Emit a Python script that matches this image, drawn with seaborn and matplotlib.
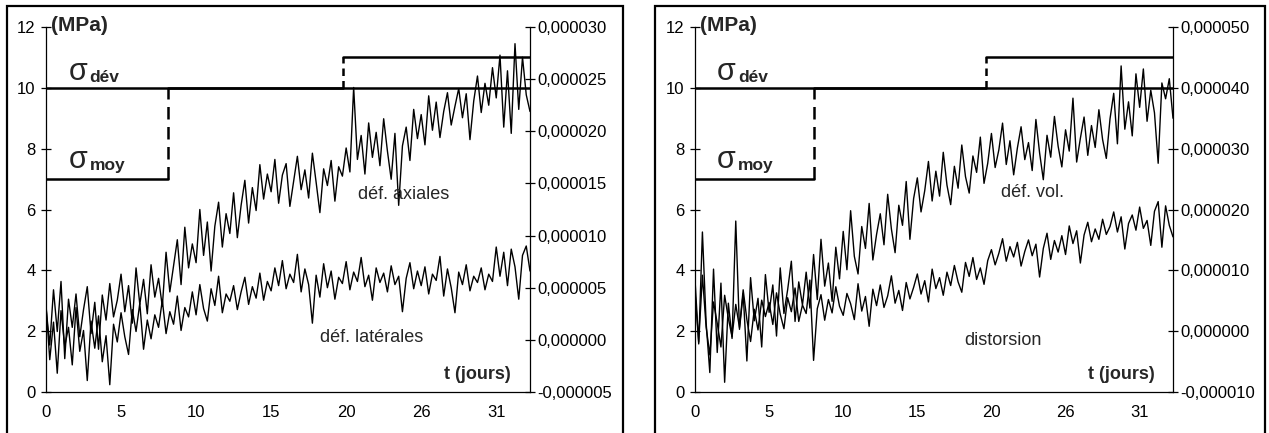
import numpy as np
import seaborn as sns
import matplotlib.pyplot as plt
from matplotlib.patches import Rectangle
from matplotlib.ticker import FuncFormatter

sns.set_style("white")
plt.rcParams["font.family"] = ["Liberation Sans", "DejaVu Sans"]

# ---------------- data ----------------
# x axis is an index scale: equally spaced labels 0,5,10,15,20,26,31
tick_labels = ["0", "5", "10", "15", "20", "26", "31"]
x_end = 6.45
step = 0.05

# stress paths (MPa): level before / after the switch position
moy_levels = [7, 10]
moy_switch = [1.63, 1.60]      # left, right panel
dev_levels = [10, 11]
dev_switch = [3.96, 3.93]

# strains, in 1e-6
axiales = [
    3.1, -0.5, 4.8, 0.8, 5.6, -1.8, 3.9, 1.2, 4.4, 0.3,
    2.9, 5.1, 0.6, 3.6, -0.9, 4.3, 1.9, 5.4, 2.2, 3.8,
    6.3, 2.7, 5.2, 1.6, 6.9, 3.4, 5.8, 2.5, 7.2, 4.1,
    5.9, 3.2, 8.4, 4.6, 7.1, 9.6, 5.3, 10.8, 6.9, 9.2,
    7.4, 12.5, 8.1, 11.3, 6.6, 10.9, 13.2, 8.9, 12.1, 10.2,
    14.1, 9.8, 12.9, 15.3, 11.2, 14.6, 12.4, 16.8, 13.5, 15.9,
    14.2, 17.3, 13.1, 15.8, 16.9, 12.8, 15.2, 17.6, 14.4, 16.3,
    13.6, 17.9, 15.1, 12.2, 16.4, 14.8, 17.2, 13.3, 16.6, 15.7,
    18.4, 16.1, 24.2, 17.3, 19.6, 15.9, 20.8, 17.5, 19.9, 16.7,
    21.2, 18.1, 15.4, 19.8, 12.9, 18.6, 20.4, 17.2, 22.1, 19.3,
    21.6, 18.7, 23.4, 20.1, 22.8, 19.4, 21.9, 23.7, 20.6, 22.4,
    24.1, 21.3, 23.6, 19.2, 22.9, 25.3, 21.8, 24.6, 22.5, 26.1,
    23.2, 27.3, 20.4, 25.8, 19.8, 28.4, 22.1, 27.1, 23.5, 21.9,
]
laterales = [
    3.4, -1.9, 1.7, -3.2, 2.8, -0.6, 1.2, -2.4, 3.1, -1.1,
    0.9, -3.9, 1.8, -0.8, 2.3, -2.1, 0.4, -4.3, 1.5, -0.2,
    2.6, 0.3, -1.4, 2.9, 0.8, 3.5, -0.9, 1.9, 0.1, 2.4,
    1.2, 3.8, 0.6, 2.7, 1.5, 4.2, 0.9, 3.1, 2.2, 4.6,
    2.4, 5.3, 3.0, 1.8, 4.9, 3.3, 6.1, 2.6, 4.4, 3.7,
    5.2, 2.9, 4.6, 6.0, 3.4, 5.1, 4.0, 6.4, 3.8, 5.6,
    4.7, 6.9, 5.2, 7.6, 4.9, 6.3, 5.5, 8.2, 4.6, 6.8,
    5.3, 1.6, 6.2, 4.1, 7.3, 5.0, 6.6, 3.9, 6.0, 5.4,
    7.5, 4.8, 6.5, 5.6, 7.9, 5.1, 6.2, 3.8, 6.9, 5.5,
    6.4, 4.6, 7.1, 5.3, 6.1, 2.7, 5.9, 7.4, 4.9, 6.6,
    5.2, 7.0, 4.4, 6.3, 5.7, 8.0, 4.2, 6.8, 5.0, 2.6,
    6.5, 5.3, 7.2, 4.7, 6.1, 5.5, 6.9, 4.8, 6.3, 5.6,
    8.9, 6.1, 8.4, 5.2, 8.7, 7.0, 3.9, 8.1, 9.0, 6.6,
]
vol = [
    8.5, -2.1, 16.3, 1.4, -6.8, 10.2, -3.5, 7.9, -8.4, 4.6,
    -1.2, 18.1, 0.3, 6.2, -4.9, 8.8, 1.7, 5.4, -2.6, 9.3,
    3.1, 7.6, -0.8, 10.4, 2.9, 6.8, 11.5, 1.6, 8.1, 4.3,
    9.7, 3.8, 12.6, 5.2, 15.1, 7.4, 11.2, 4.9, 13.8, 8.6,
    16.4, 10.1, 19.8, 12.3, 9.4, 17.2, 13.6, 21.0, 11.7, 15.9,
    19.3, 14.2, 22.5, 16.8, 12.9, 20.7, 17.4, 24.6, 15.1, 21.8,
    25.2, 19.6, 23.1, 27.9, 21.4, 26.3, 22.2, 29.4, 24.0, 20.8,
    27.1, 23.5, 30.6, 25.4, 22.7, 28.8, 26.1, 31.9, 24.3, 27.6,
    32.5, 26.9, 29.8, 34.2, 27.4, 31.3, 25.7, 30.1, 33.6, 28.2,
    31.0, 26.4, 34.8, 29.3, 24.9, 32.2, 28.6, 35.3, 30.4, 27.0,
    33.1, 29.6, 38.3, 27.8, 31.7, 35.2, 28.9, 33.8, 30.2, 36.4,
    31.5, 28.4, 34.9, 39.1, 30.8, 43.6, 33.2, 37.7, 32.1, 42.3,
    36.8, 43.1, 34.5, 39.6, 35.9, 27.6, 40.8, 38.2, 41.5, 35.0,
]
distorsion = [
    6.4, -1.8, 9.2, 0.7, -3.9, 4.8, 1.3, -2.6, 5.9, 2.1,
    -0.9, 4.4, 0.6, 6.8, 1.9, -1.7, 3.6, 0.2, 5.1, 2.4,
    4.7, 1.1, 6.3, 2.8, 0.4, 5.5, 3.2, 7.1, 1.6, 4.3,
    2.9, 8.4, -4.8, 3.7, 6.0, 1.8, 5.2, 3.0, 7.3, 4.1,
    2.6, 6.2, 4.5, 1.9, 7.8, 3.3, 5.7, 0.8, 6.9, 4.2,
    7.6, 3.9, 5.8, 9.1, 4.6, 6.7, 3.4, 8.0, 5.3, 7.2,
    9.4, 6.1, 8.3, 4.8, 10.2, 7.0, 8.8, 5.9, 9.7, 7.5,
    10.8, 8.1, 6.4, 11.3, 9.0, 12.1, 8.5, 10.4, 7.7, 11.6,
    13.4, 10.9, 12.8, 15.2, 11.5, 13.9, 12.2, 14.6, 10.7, 13.1,
    15.0, 12.4, 14.3, 8.9, 13.6, 16.1, 11.8, 14.9, 13.0, 15.7,
    12.6, 17.3, 14.4, 16.5, 11.2, 15.8, 17.9, 14.7, 16.8, 15.1,
    18.4, 15.9, 17.2, 19.6, 16.3, 18.8, 13.5, 17.7, 19.1, 16.6,
    20.4, 16.9, 18.2, 14.1, 19.7, 21.3, 13.8, 20.6, 17.4, 15.5,
]

panels = [
    dict(rect=[46 / 1269, 41 / 433, 484 / 1269, 365 / 433],
         frame=(7, 623), strain_lim=(-5e-6, 30e-6), strain_step=5e-6,
         series=(axiales, laterales),
         labels=[("déf. axiales", 4.16, 6.5), ("déf. latérales", 3.65, 1.78)]),
    dict(rect=[695 / 1269, 41 / 433, 478 / 1269, 365 / 433],
         frame=(655, 1265), strain_lim=(-10e-6, 50e-6), strain_step=10e-6,
         series=(vol, distorsion),
         labels=[("déf. vol.", 4.13, 6.55), ("distorsion", 3.63, 1.7)]),
]

fig = plt.figure(figsize=(12.69, 4.33), dpi=100)
comma_fmt = FuncFormatter(lambda v, pos: f"{v:.6f}".replace(".", ","))

for i, p in enumerate(panels):
    # outer chart frame
    x0, x1 = p["frame"]
    fig.add_artist(Rectangle((x0 / 1269, -0.02), (x1 - x0) / 1269, 1.006,
                             transform=fig.transFigure, fill=False,
                             lw=1.6, color="black"))

    ax = fig.add_axes(p["rect"])
    ax2 = ax.twinx()

    t = np.arange(len(p["series"][0])) * step
    for s in p["series"]:
        sns.lineplot(x=t, y=np.array(s) * 1e-6, ax=ax2, color="black",
                     lw=1.0, estimator=None)

    # stress paths
    ms, ds = moy_switch[i], dev_switch[i]
    ax.plot([0, ms], [moy_levels[0]] * 2, color="black", lw=1.8)
    ax.plot([ms, ms], moy_levels, color="black", lw=1.8, ls=(0, (5, 3)))
    ax.plot([ms, x_end], [moy_levels[1]] * 2, color="black", lw=1.8)
    ax.plot([0, ds], [dev_levels[0]] * 2, color="black", lw=1.8)
    ax.plot([ds, ds], dev_levels, color="black", lw=1.8, ls=(0, (3, 2)))
    ax.plot([ds, x_end], [dev_levels[1]] * 2, color="black", lw=1.8)

    ax.set_xlim(0, x_end)
    ax.set_ylim(0, 12)
    ax.set_yticks(range(0, 13, 2))
    ax.set_xticks(range(len(tick_labels)))
    ax.set_xticklabels(tick_labels)
    ax2.set_ylim(*p["strain_lim"])
    ax2.set_yticks(np.arange(p["strain_lim"][0],
                             p["strain_lim"][1] + p["strain_step"] / 2,
                             p["strain_step"]))
    ax2.yaxis.set_major_formatter(comma_fmt)
    ax2.set_xlim(0, x_end)

    for a in (ax, ax2):
        a.spines["top"].set_visible(False)
        a.tick_params(direction="inout", length=7, width=0.9,
                      labelsize=12, colors="black")
    ax.spines["right"].set_visible(False)
    ax2.spines["left"].set_visible(False)
    ax2.spines["bottom"].set_visible(False)
    for sp in ("left", "bottom"):
        ax.spines[sp].set_color("black")
        ax.spines[sp].set_linewidth(0.9)
    ax2.spines["right"].set_color("black")
    ax2.spines["right"].set_linewidth(0.9)
    ax.tick_params(axis="y", pad=4)
    ax2.tick_params(axis="y", pad=2)
    ax.tick_params(axis="x", pad=6)

    # annotations (drawn on the MPa axis)
    ax2.text(0.07, 12.05, "(MPa)", fontsize=15, fontweight="bold",
             va="center", ha="left", transform=ax.transData)
    for sub, yb in [("dév", 10.27), ("moy", 7.38)]:
        ax2.text(0.3, yb, "σ", fontsize=22, va="baseline", ha="left",
                 transform=ax.transData)
        ax2.text(0.58, yb - 0.08, sub, fontsize=12.5, fontweight="bold",
                 va="baseline", ha="left", transform=ax.transData)
    for txt, xx, yy in p["labels"]:
        ax2.text(xx, yy, txt, fontsize=13, va="center", ha="left",
                 transform=ax.transData)
    ax2.text(6.2, 0.58, "t (jours)", fontsize=13, fontweight="bold",
             va="center", ha="right", transform=ax.transData)
    ax.set_xlabel("")
    ax.set_ylabel("")
    ax2.set_ylabel("")

fig.savefig("out.png", dpi=100)
